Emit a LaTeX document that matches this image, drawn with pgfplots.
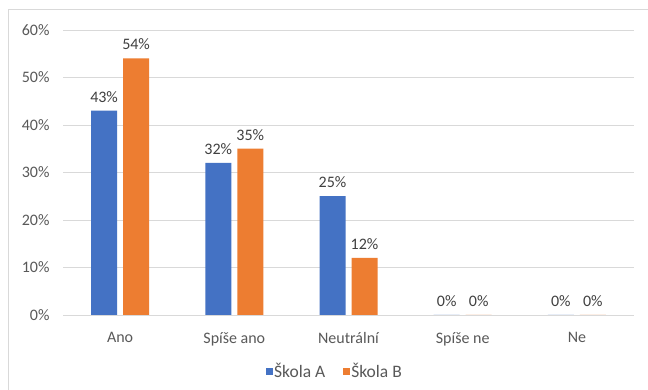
\documentclass[border=0pt]{standalone}
\usepackage{fontspec}
\setmainfont{Carlito}
\usepackage{pgfplots}
\pgfplotsset{compat=1.18}
\definecolor{barA}{HTML}{4472C4}
\definecolor{barB}{HTML}{ED7D31}
\definecolor{gridc}{HTML}{D9D9D9}
\definecolor{ticktxt}{HTML}{595959}
\definecolor{lbltxt}{HTML}{404040}

\begin{document}
\begin{tikzpicture}
\useasboundingbox[fill=white] (0,0) rectangle (648pt,390pt);
% chart frame
\draw[gridc, line width=1pt] (8pt,0) -- (8pt,380pt) -- (648pt,380pt);
\begin{axis}[
  at={(63pt,75pt)}, anchor=south west, scale only axis,
  width=571pt, height=285pt,
  ybar=6pt, bar width=26pt,
  xmin=-0.5, xmax=4.5, ymin=0, ymax=60,
  xtick=data,
  xticklabels={Ano, Spíše ano, Neutrální, Spíše ne, Ne},
  ytick={0,10,...,60},
  yticklabel={\pgfmathprintnumber{\tick}\%},
  /pgf/number format/assume math mode=true,
  ymajorgrids, grid style={gridc, line width=0.9pt},
  axis line style={draw=none},
  major tick length=0pt,
  tick label style={font=\fontsize{16}{19}\selectfont, text=ticktxt},
  xticklabel style={yshift=-14pt},
  yticklabel style={xshift=-10pt},
  nodes near coords={\pgfmathprintnumber{\pgfplotspointmeta}\%},
  nodes near coords style={font=\fontsize{16}{19}\selectfont, text=lbltxt, yshift=5pt},
  legend columns=-1,
  legend style={at={(0.4755,-0.198)}, anchor=center, draw=none, fill=none,
    font=\fontsize{17.5}{20}\selectfont, text=ticktxt,
    nodes={inner xsep=1.5pt},
    /tikz/every even column/.append style={column sep=16pt}},
  legend image code/.code={\fill[#1] (0pt,-3.5pt) rectangle (7pt,3.5pt);},
  clip=false,
]
\addplot[fill=barA, draw=none] coordinates {(0,43) (1,32) (2,25) (3,0) (4,0)};
\addplot[fill=barB, draw=none] coordinates {(0,54) (1,35) (2,12) (3,0) (4,0)};
\legend{Škola A, Škola B}
\end{axis}
\end{tikzpicture}
\end{document}
